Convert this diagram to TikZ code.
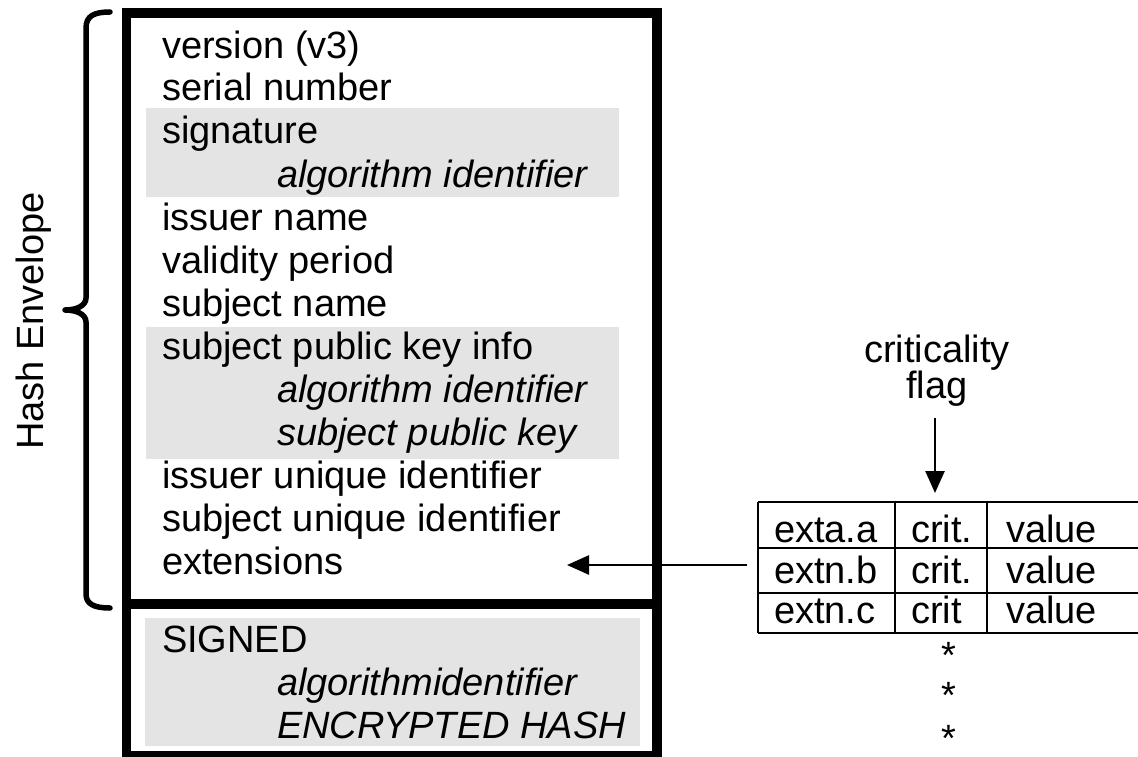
\documentclass[tikz,border=0pt]{standalone}
\usepackage{fontspec}
\setmainfont{Liberation Sans}
\usetikzlibrary{arrows.meta}
\definecolor{fieldgray}{RGB}{228,228,228}
\begin{document}
\begin{tikzpicture}[x=1pt,y=-1pt,
  every node/.style={inner sep=0pt, outer sep=0pt, font=\fontsize{38}{43}\selectfont},
  fld/.style={anchor=base west},
  sub/.style={anchor=base west, font=\fontsize{38}{43}\selectfont\itshape},
  cell/.style={anchor=base west},
  frame/.style={draw, line width=9.5pt, anchor=north west},
  shade/.style={fill=fieldgray},
  grid/.style={line width=2.6pt},
  arr/.style={line width=2.6pt, -{Triangle[length=22pt,width=19pt]}},
  bracepath/.style={line width=5.5pt, line cap=round, line join=round}]

\useasboundingbox (0,0) rectangle (1138,757);

% shaded field groups
\fill[shade] (146,108) rectangle (619,197);
\fill[shade] (146,327) rectangle (619,459);
\fill[shade] (145,618) rectangle (640,746);

% certificate body and signature block
\node[frame, minimum width=530.5pt, minimum height=591pt] (tbs) at (126.5,13) {};
\node[frame, minimum width=530.5pt, minimum height=152pt] (sig) at (126.5,604) {};

% certificate fields
\node[fld] (f1)  at (162,59)  {version (v3)};
\node[fld] (f2)  at (162,101) {serial number};
\node[fld] (f3)  at (162,144) {signature};
\node[sub] (f3a) at (277,187) {algorithm identifier};
\node[fld] (f4)  at (162,230) {issuer name};
\node[fld] (f5)  at (162,273) {validity period};
\node[fld] (f6)  at (162,316) {subject name};
\node[fld] (f7)  at (162,359) {subject public key info};
\node[sub] (f7a) at (277,402) {algorithm identifier};
\node[sub] (f7b) at (277,445) {subject public key};
\node[fld] (f8)  at (162,488) {issuer unique identifier};
\node[fld] (f9)  at (162,531) {subject unique identifier};
\node[fld] (f10) at (162,574) {extensions};

\node[fld] (s1)  at (162,652) {SIGNED};
\node[sub] (s1a) at (277,695) {algorithmidentifier};
\node[sub] (s1b) at (277,738) {ENCRYPTED HASH};

% brace around the hashed part
\draw[bracepath] (110,12) .. controls (94,12) and (86,16) .. (86,28)
  -- (86,298) .. controls (86,306) and (76,310) .. (65,310)
  .. controls (76,310) and (86,314) .. (86,322)
  -- (86,594) .. controls (86,604) and (94,608) .. (110,608);
\node[rotate=90, anchor=base] (env) at (43,321) {Hash Envelope};

% extensions table
\draw[grid] (758,502) -- (1140,502);
\draw[grid] (758,548) -- (1140,548);
\draw[grid] (758,593) -- (1140,593);
\draw[grid] (758,633) -- (1140,633);
\draw[grid] (758,502) -- (758,633);
\draw[grid] (895,502) -- (895,633);
\draw[grid] (987,502) -- (987,633);

\node[cell] (ea) at (774,542) {exta.a};
\node[cell] (ca) at (911,542) {crit.};
\node[cell] (va) at (1006,542) {value};
\node[cell] (eb) at (774,583) {extn.b};
\node[cell] (cb) at (911,583) {crit.};
\node[cell] (vb) at (1006,583) {value};
\node[cell] (ec) at (774,623) {extn.c};
\node[cell] (cc) at (911,623) {crit};
\node[cell] (vc) at (1006,623) {value};

\node[anchor=base] (dot1) at (949,668) {*};
\node[anchor=base] (dot2) at (949,708) {*};
\node[anchor=base] (dot3) at (949,751) {*};

% criticality flag label
\node[anchor=base] (critl) at (937,362) {criticality};
\node[anchor=base] (flagl) at (937,398) {flag};

% connectors
\coordinate (flagfoot) at (935,418);
\coordinate (critcell) at (935,493);
\draw[arr] (flagfoot) -- (critcell);

\coordinate (tblin) at (747,565);
\coordinate (extgap) at (567,565);
\draw[arr] (tblin) -- (extgap);
\end{tikzpicture}
\end{document}
